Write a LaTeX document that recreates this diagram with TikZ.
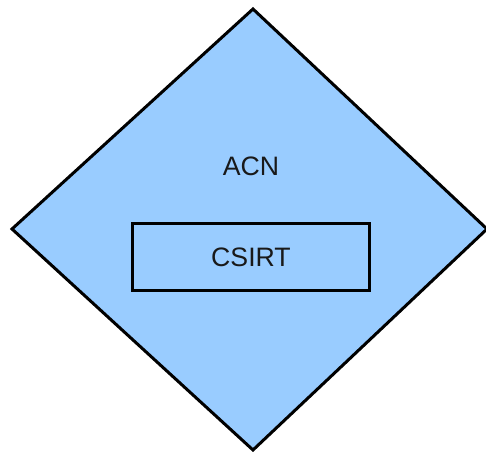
\documentclass[tikz,border=0pt]{standalone}
\usepackage{fontspec}
\setmainfont{Liberation Sans}
\begin{document}
\begin{tikzpicture}[x=0.75pt,y=-0.75pt,
  outline/.style={draw=black,line width=2.25pt,line join=miter},
  lbl/.style={font=\fontsize{20}{24}\selectfont,text=black!90}]
\useasboundingbox (0,0) rectangle (486,452);
\definecolor{dblue}{HTML}{99CCFF}
\coordinate (T) at (253,9);
\coordinate (R) at (487,229);
\coordinate (B) at (253,450);
\coordinate (L) at (12,229);
\fill[dblue] (T) -- (R) -- (B) -- (L) -- cycle;
\draw[outline] (T) -- (R) -- (B) -- (L) -- cycle;
\node[lbl] (acn) at (251,166.5) {ACN};
\node[outline,fill=dblue,minimum width=236.5*0.75pt,minimum height=67.5*0.75pt,inner sep=0pt,lbl] (csirt) at (251,257) {CSIRT};
\end{tikzpicture}
\end{document}
